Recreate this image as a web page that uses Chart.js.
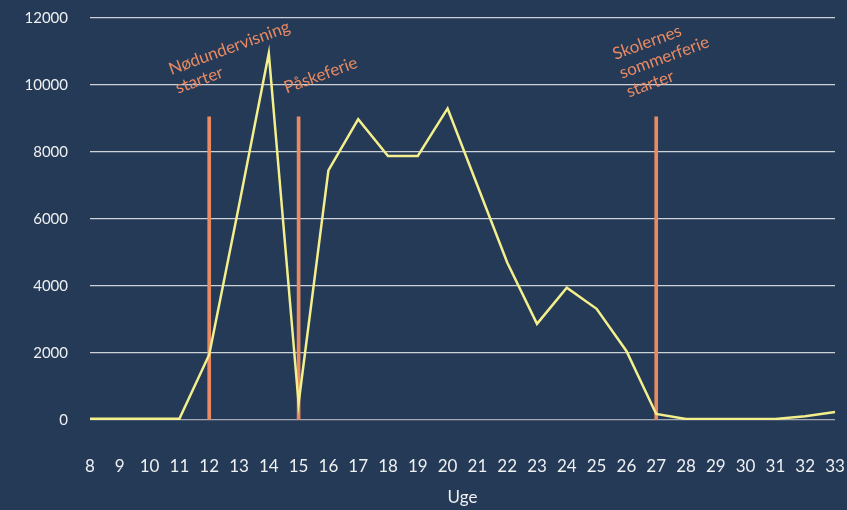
<!DOCTYPE html>
<html>
<head>
<meta charset="utf-8">
<script src="https://cdn.jsdelivr.net/npm/chart.js@4.4.1/dist/chart.umd.min.js"></script>
<style>
  html, body { margin: 0; padding: 0; background: #253a56; }
  #wrap { width: 847px; height: 510px; position: relative; }
</style>
</head>
<body>
<div id="wrap"><canvas id="chart"></canvas></div>
<script>
const weeks = [8, 9, 10, 11, 12, 13, 14, 15, 16, 17, 18, 19, 20, 21, 22, 23, 24, 25, 26, 27, 28, 29, 30, 31, 32, 33];
const cases = [40, 40, 40, 40, 1950, 6400, 10950, 500, 7450, 8980, 7880, 7880, 9300, 7000, 4700, 2870, 3950, 3320, 2060, 180, 30, 30, 30, 30, 110, 240];
const yTicks = [0, 2000, 4000, 6000, 8000, 10000, 12000];
const markerWeeks = [12, 15, 27];
const markerHeight = 9050;
const markerLabels = [["Nødundervisning", "starter"], ["Påskeferie"], ["Skolernes", "sommerferie", "starter"]];
const markerLabelY = [10300, 9750, 10750];

const bg = "#253a56";
const textColor = "#eef0f2";
const orange = "#e98a63";
const yellow = "#f3ef8c";
const font = "Lato, 'Open Sans', sans-serif";

const labelOffsets = [-38, -12, -41];

const markerText = {
  id: "markerText",
  afterDatasetsDraw(chart) {
    const { ctx, scales } = chart;
    ctx.save();
    ctx.fillStyle = orange;
    ctx.font = "17px " + font;
    ctx.textAlign = "left";
    ctx.textBaseline = "alphabetic";
    markerWeeks.forEach((week, i) => {
      const x = scales.x.getPixelForValue(weeks.indexOf(week)) + labelOffsets[i];
      const y = scales.y.getPixelForValue(markerLabelY[i]);
      ctx.save();
      ctx.translate(x, y);
      ctx.rotate(-20 * Math.PI / 180);
      markerLabels[i].forEach((line, j) => {
        ctx.fillText(line, 0, j * 20);
      });
      ctx.restore();
    });
    ctx.restore();
  },
};

const background = {
  id: "background",
  beforeDraw(chart) {
    const { ctx, width, height } = chart;
    ctx.save();
    ctx.fillStyle = bg;
    ctx.fillRect(0, 0, width, height);
    ctx.restore();
  },
};

new Chart(document.getElementById("chart"), {
  data: {
    labels: weeks.map(String),
    datasets: [
      {
        type: "line",
        data: cases,
        borderColor: yellow,
        borderWidth: 2.5,
        pointRadius: 0,
        tension: 0,
        order: 0,
      },
      {
        type: "bar",
        data: weeks.map((w) => (markerWeeks.includes(w) ? markerHeight : null)),
        backgroundColor: orange,
        barThickness: 3,
        order: 1,
      },
    ],
  },
  options: {
    responsive: true,
    maintainAspectRatio: false,
    animation: false,
    layout: { padding: { top: 18, right: 12, bottom: 2, left: 0 } },
    plugins: {
      legend: { display: false },
      tooltip: { enabled: false },
    },
    scales: {
      x: {
        offset: false,
        afterFit: (s) => {
          s.height = 88;
          s.paddingLeft = 0;
          s.paddingRight = 0;
        },
        grid: { display: false },
        border: { display: false },
        ticks: { color: textColor, font: { family: font, size: 17 }, padding: 28, maxRotation: 0, autoSkip: false },
        title: { display: true, text: "Uge", color: textColor, font: { family: font, size: 17 }, padding: { top: 0, bottom: 0 } },
      },
      y: {
        min: 0,
        max: 12000,
        afterBuildTicks: (scale) => {
          scale.ticks = yTicks.map((v) => ({ value: v }));
        },
        afterFit: (s) => {
          s.width = 90;
          s.paddingTop = 0;
          s.paddingBottom = 0;
        },
        grid: {
          color: (c) => (c.tick && c.tick.value === 0 ? "#a4a9b2" : "#cdd1d8"),
          lineWidth: 1.2,
          drawTicks: false,
        },
        border: { display: false },
        ticks: { color: textColor, font: { family: font, size: 15 }, padding: 22, callback: (v) => String(v) },
      },
    },
  },
  plugins: [background, markerText],
});
</script>
</body>
</html>
